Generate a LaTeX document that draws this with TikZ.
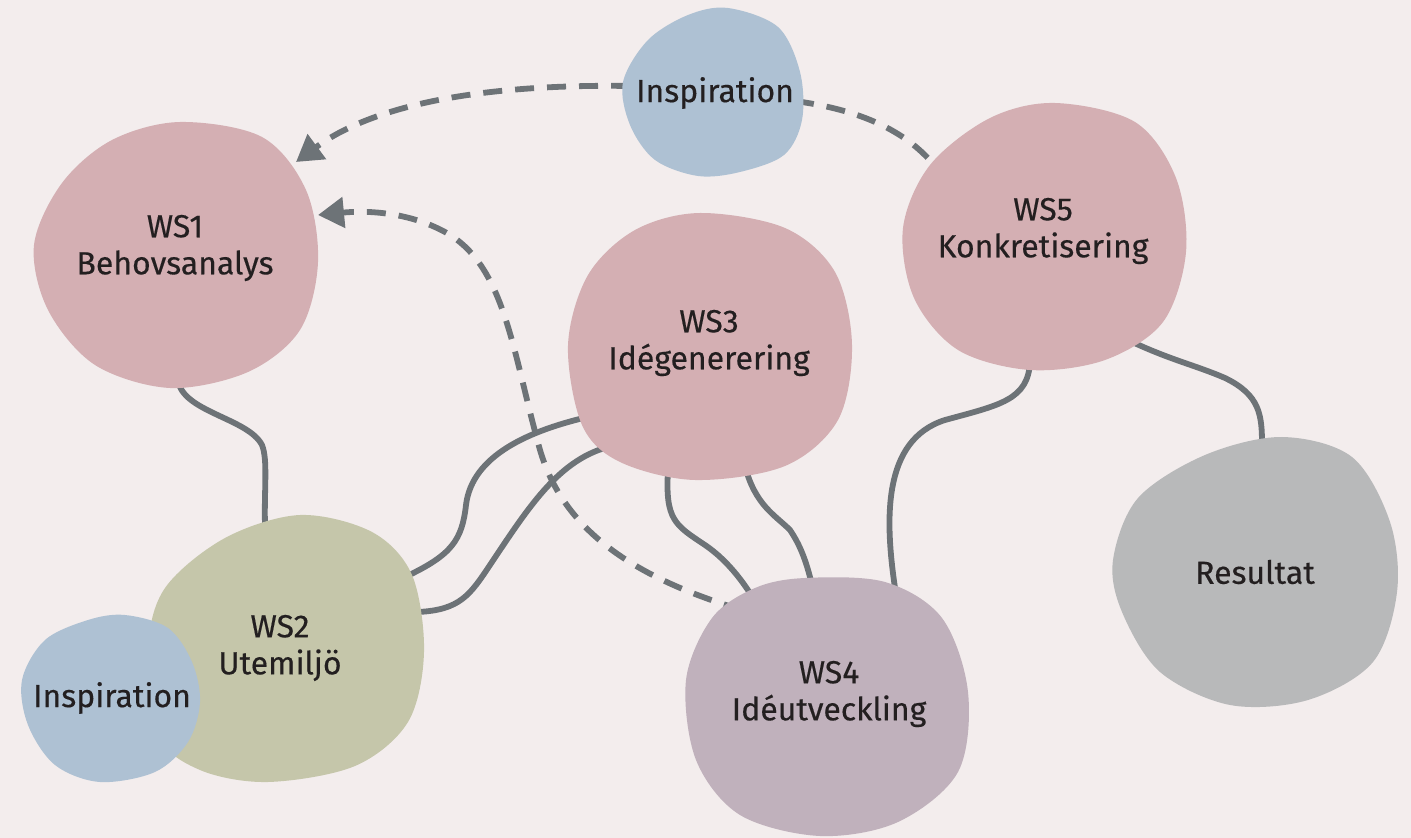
\documentclass[tikz,border=0pt]{standalone}
\usepackage{fontspec}
\setmainfont{Fira Sans}
\newfontfamily\lblfont{Fira Sans}[FakeBold=0.35]
\usetikzlibrary{arrows.meta}
\definecolor{bg}{HTML}{F3EDED}
\definecolor{pinkc}{HTML}{D4AFB3}
\definecolor{greenc}{HTML}{C5C6AA}
\definecolor{bluec}{HTML}{AEC1D3}
\definecolor{purplec}{HTML}{C0B1BC}
\definecolor{grayc}{HTML}{B8B9BA}
\definecolor{linec}{HTML}{6D7377}
\definecolor{textc}{HTML}{231F20}
\tikzset{
  conn/.style={draw=linec, line width=2.9pt, line cap=round},
  dashconn/.style={draw=linec, line width=2.9pt, dash pattern=on 9.5pt off 6.5pt},
  tip/.style={-{Triangle[length=13pt,width=15pt]}},
  lbl/.style={text=textc, align=center, font=\lblfont\fontsize{16}{18.5}\selectfont},
  blob/.style={fill=#1, draw=none}
}
\begin{document}
\begin{tikzpicture}[x=0.5pt,y=-0.5pt]
\useasboundingbox (0,0) rectangle (1411,838);
\fill[bg] (0,0) rectangle (1411,838);

% endpoints
\coordinate (ws1b) at (178,380);
\coordinate (ws2t) at (265,525);
\coordinate (ws2r1) at (405,577);
\coordinate (ws2r2) at (418,612);
\coordinate (ws3l1) at (592,416);
\coordinate (ws3l2) at (612,446);
\coordinate (ws3b1) at (668,470);
\coordinate (ws3b2) at (745,466);
\coordinate (ws4t1) at (760,610);
\coordinate (ws4t2) at (812,585);
\coordinate (ws4t3) at (895,588);
\coordinate (ws5b1) at (1030,362);
\coordinate (ws5b2) at (1128,340);
\coordinate (rest) at (1262,445);
\coordinate (insp1l) at (630,86);
\coordinate (insp1r) at (795,101);
\coordinate (ws5tl) at (935,166);
\coordinate (ws1a) at (296,162);
\coordinate (ws4tl) at (742,610);
\coordinate (ws1b2) at (318,215);

% solid connectors
\draw[conn] (ws1b) .. controls (182,412) and (248,418) .. (262,445) .. controls (268,460) and (264,490) .. (ws2t);
\draw[conn] (ws2r1) .. controls (452,555) and (462,540) .. (466,505) .. controls (472,455) and (530,430) .. (ws3l1);
\draw[conn] (ws2r2) .. controls (460,610) and (470,595) .. (490,565) .. controls (530,505) and (560,458) .. (ws3l2);
\draw[conn] (ws3b1) .. controls (665,520) and (675,525) .. (705,545) .. controls (730,562) and (748,588) .. (ws4t1);
\draw[conn] (ws3b2) .. controls (755,505) and (775,515) .. (790,530) .. controls (800,545) and (806,560) .. (ws4t2);
\draw[conn] (ws4t3) .. controls (885,520) and (882,440) .. (945,420) .. controls (1000,405) and (1028,400) .. (ws5b1);
\draw[conn] (ws5b2) .. controls (1170,360) and (1195,365) .. (1225,378) .. controls (1260,395) and (1262,415) .. (rest);

% dashed connectors
\draw[dashconn, tip] (insp1l) .. controls (500,84) and (380,100) .. (ws1a);
\draw[dashconn] (insp1r) .. controls (860,110) and (905,130) .. (ws5tl);
\draw[dashconn, tip] (ws4tl) .. controls (625,575) and (562,525) .. (540,450) .. controls (512,350) and (505,265) .. (445,232) .. controls (410,213) and (370,210) .. (ws1b2);

% blobs
\fill[blob=pinkc] plot[smooth cycle, tension=0.55] coordinates {(180,122) (262,137) (306,190) (318,262) (300,330) (248,372) (170,388) (95,365) (48,310) (34,245) (62,183) (112,140)};
\fill[blob=pinkc] plot[smooth cycle, tension=0.55] coordinates {(700,213) (785,228) (835,272) (852,345) (838,420) (785,466) (695,480) (620,462) (582,425) (568,345) (588,275) (635,230)};
\fill[blob=pinkc] plot[smooth cycle, tension=0.55] coordinates {(1055,103) (1135,122) (1176,178) (1186,252) (1163,322) (1105,360) (1030,370) (958,350) (914,298) (903,228) (930,165) (990,118)};
\fill[blob=bluec] plot[smooth cycle, tension=0.55] coordinates {(728,8) (778,27) (800,72) (802,120) (784,155) (740,172) (698,176) (655,160) (630,125) (623,82) (648,40) (688,15)};
\fill[blob=greenc] plot[smooth cycle, tension=0.55] coordinates {(300,515) (372,532) (412,575) (424,652) (408,722) (355,766) (268,782) (200,770) (158,735) (148,650) (165,588) (225,538)};
\fill[blob=bluec] plot[smooth cycle, tension=0.55] coordinates {(125,615) (168,628) (192,662) (200,702) (188,742) (155,772) (100,782) (55,765) (28,725) (22,680) (45,640) (88,620)};
\fill[blob=purplec] plot[smooth cycle, tension=0.55] coordinates {(805,578) (885,582) (942,618) (968,692) (958,772) (898,822) (820,836) (740,815) (696,760) (686,680) (712,618) (755,588)};
\fill[blob=grayc] plot[smooth cycle, tension=0.55] coordinates {(1282,437) (1352,457) (1390,522) (1397,592) (1373,662) (1308,700) (1230,705) (1160,672) (1122,612) (1113,560) (1138,498) (1205,455)};

% labels
\node[lbl] (ws1) at (175,248) {WS1\\Behovsanalys};
\node[lbl] (ws2) at (280,648) {WS2\\Utemiljö};
\node[lbl] (ws3) at (709,343) {WS3\\Idégenerering};
\node[lbl] (ws4) at (829,694) {WS4\\Idéutveckling};
\node[lbl] (ws5) at (1043,231) {WS5\\Konkretisering};
\node[lbl] (res) at (1255,572) {Resultat};
\node[lbl] (inspA) at (715,93) {Inspiration};
\node[lbl] (inspB) at (112,698) {Inspiration};
\end{tikzpicture}
\end{document}
